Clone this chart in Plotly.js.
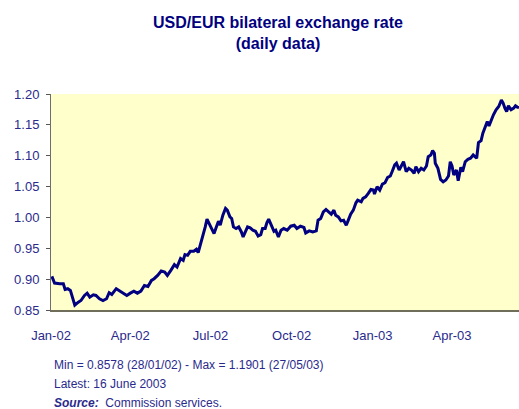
<!DOCTYPE html>
<html>
<head>
<meta charset="utf-8">
<script src="https://cdn.plot.ly/plotly-3.0.1.min.js"></script>
<style>
html,body{margin:0;padding:0;background:#fff;}
#chart{width:519px;height:409px;}
</style>
</head>
<body>
<div id="chart"></div>
<script>
var dates = [
"2002-01-02","2002-01-05","2002-01-11","2002-01-15","2002-01-17","2002-01-20","2002-01-23","2002-01-25","2002-01-28",
"2002-02-01","2002-02-04","2002-02-08","2002-02-11","2002-02-14","2002-02-18","2002-02-21","2002-02-25",
"2002-03-01","2002-03-05","2002-03-08","2002-03-11","2002-03-16","2002-03-20","2002-03-23","2002-03-28",
"2002-04-01","2002-04-05","2002-04-09","2002-04-13","2002-04-17","2002-04-21","2002-04-25","2002-04-28",
"2002-05-02","2002-05-06","2002-05-10","2002-05-13","2002-05-17","2002-05-21","2002-05-24","2002-05-28","2002-05-31",
"2002-06-02","2002-06-05","2002-06-08","2002-06-12","2002-06-15","2002-06-17","2002-06-20","2002-06-22","2002-06-25","2002-06-27","2002-06-30",
"2002-07-03","2002-07-05","2002-07-07","2002-07-10","2002-07-12","2002-07-15","2002-07-18","2002-07-20","2002-07-23","2002-07-25","2002-07-27","2002-07-30",
"2002-08-02","2002-08-05","2002-08-07","2002-08-09","2002-08-12","2002-08-15","2002-08-18","2002-08-21","2002-08-24","2002-08-27","2002-08-29",
"2002-09-01","2002-09-03","2002-09-05","2002-09-08","2002-09-11","2002-09-13","2002-09-16","2002-09-19","2002-09-22","2002-09-26","2002-09-30",
"2002-10-04","2002-10-07","2002-10-11","2002-10-15","2002-10-17","2002-10-21","2002-10-25","2002-10-29","2002-10-31",
"2002-11-03","2002-11-06","2002-11-09","2002-11-12","2002-11-15","2002-11-18","2002-11-20","2002-11-23","2002-11-26","2002-11-29",
"2002-12-02","2002-12-04","2002-12-07","2002-12-10","2002-12-13","2002-12-15","2002-12-19","2002-12-21","2002-12-24","2002-12-27","2002-12-30",
"2003-01-02","2003-01-03","2003-01-06","2003-01-09","2003-01-12","2003-01-15","2003-01-18","2003-01-21","2003-01-23","2003-01-26","2003-01-28","2003-01-31",
"2003-02-02","2003-02-05","2003-02-08","2003-02-11","2003-02-14","2003-02-17","2003-02-19","2003-02-22","2003-02-25","2003-02-28",
"2003-03-03","2003-03-05","2003-03-08","2003-03-10","2003-03-12","2003-03-13","2003-03-16","2003-03-19","2003-03-22","2003-03-25","2003-03-28","2003-03-30",
"2003-04-01","2003-04-03","2003-04-06","2003-04-08","2003-04-11","2003-04-13","2003-04-16","2003-04-19","2003-04-22","2003-04-25","2003-04-27","2003-04-29",
"2003-05-01","2003-05-04","2003-05-06","2003-05-08","2003-05-11","2003-05-13","2003-05-16","2003-05-18","2003-05-21","2003-05-24","2003-05-27","2003-05-29","2003-05-31",
"2003-06-02","2003-06-04","2003-06-07","2003-06-10","2003-06-12","2003-06-14","2003-06-16"
];
var usdPerEur = [
0.9045,0.8936,0.8926,0.8926,0.8834,0.8845,0.8817,0.8708,0.8578,
0.8627,0.8654,0.8736,0.8773,0.8708,0.8747,0.8736,0.8682,
0.8654,0.8682,0.8780,0.8752,0.8845,0.8806,0.8790,0.8736,
0.8773,0.8806,0.8773,0.8806,0.8898,0.8882,0.8980,0.9007,
0.9061,0.9131,0.9115,0.9061,0.9142,0.9235,0.9196,0.9333,0.9305,
0.9398,0.9386,0.9451,0.9451,0.9484,0.9430,0.9576,0.9711,0.9846,0.9972,0.9885,
0.9820,0.9739,0.9820,0.9939,0.9874,1.0037,1.0146,1.0118,1.0009,0.9983,0.9846,0.9820,
0.9846,0.9765,0.9684,0.9755,0.9846,0.9830,0.9793,0.9776,0.9700,0.9722,0.9820,
0.9820,0.9918,0.9972,0.9874,0.9776,0.9793,0.9684,0.9793,0.9820,0.9793,0.9858,
0.9874,0.9820,0.9858,0.9837,0.9749,0.9782,0.9765,0.9782,0.9955,
0.9983,1.0090,1.0129,1.0090,1.0053,1.0118,1.0037,1.0009,0.9944,0.9955,
0.9874,0.9944,1.0053,1.0118,1.0237,1.0280,1.0253,1.0308,1.0334,1.0389,1.0454,
1.0443,1.0378,1.0497,1.0443,1.0541,1.0562,1.0650,1.0671,1.0741,1.0850,1.0878,1.0768,
1.0822,1.0903,1.0741,1.0796,1.0768,1.0715,1.0822,1.0741,1.0796,1.0768,
1.0833,1.0985,1.1012,1.1082,1.1040,1.0878,1.0796,1.0617,1.0578,1.0606,1.0671,1.0903,
1.0833,1.0687,1.0768,1.0594,1.0812,1.0741,1.0903,1.0942,1.0959,1.1012,1.0985,1.0959,
1.1212,1.1245,1.1365,1.1430,1.1553,1.1484,1.1609,1.1663,1.1744,1.1798,1.1901,1.1853,1.1771,
1.1716,1.1809,1.1744,1.1771,1.1809,1.1788,1.1780
];
var xTickDates = ["2002-01-01","2002-04-01","2002-07-01","2002-10-01","2003-01-01","2003-04-01"];
var xTickLabels = ["Jan-02","Apr-02","Jul-02","Oct-02","Jan-03","Apr-03"];
var yTickValues = [0.85,0.90,0.95,1.00,1.05,1.10,1.15,1.20];
var titleText = "USD/EUR bilateral exchange rate<br>(daily data)";
var noteLines = [
  "Min = 0.8578 (28/01/02) - Max = 1.1901 (27/05/03)",
  "Latest: 16 June 2003",
  "<b><i>Source:</i></b>  Commission services."
];

var navy = "#000080";
var textBlue = "#2a2a8c";
var fontFam = "Liberation Sans, Arial, sans-serif";

var trace = {
  x: dates, y: usdPerEur, type: "scatter", mode: "lines",
  line: {color: navy, width: 3},
  hoverinfo: "skip"
};

var annY = [-0.2546, -0.343, -0.429];
var annotations = noteLines.map(function(t, i){
  return {text: t, xref: "paper", yref: "paper", x: 0.002, y: annY[i],
    xanchor: "left", yanchor: "middle", showarrow: false,
    font: {family: fontFam, size: 12, color: textBlue}};
});

var layout = {
  width: 519, height: 409,
  margin: {l: 51, r: 0, t: 94, b: 99, pad: 0},
  paper_bgcolor: "#ffffff",
  plot_bgcolor: "#ffffcc",
  showlegend: false,
  title: {
    text: titleText, xref: "container", yref: "container",
    x: 278/519, xanchor: "center", y: 1 - 28/409, yanchor: "top",
    font: {family: fontFam, size: 16, color: navy, weight: "bold"}
  },
  xaxis: {
    type: "date",
    range: ["2002-01-01", "2003-06-16"],
    tickvals: xTickDates, ticktext: xTickLabels,
    ticks: "", showgrid: false, zeroline: false,
    showline: true, linecolor: "#6e6e5a", linewidth: 2,
    tickfont: {family: fontFam, size: 13, color: textBlue},
    ticklabelstandoff: 12
  },
  yaxis: {
    range: [0.85, 1.20],
    tickvals: yTickValues, tickformat: ".2f",
    ticks: "outside", ticklen: 4, tickcolor: "#555555", tickwidth: 1,
    showgrid: false, zeroline: false,
    showline: true, linecolor: "#6e6e6e", linewidth: 1,
    tickfont: {family: fontFam, size: 13, color: textBlue},
    ticklabelstandoff: 4
  },
  annotations: annotations
};

Plotly.newPlot("chart", [trace], layout, {staticPlot: true, displayModeBar: false});
</script>
</body>
</html>
